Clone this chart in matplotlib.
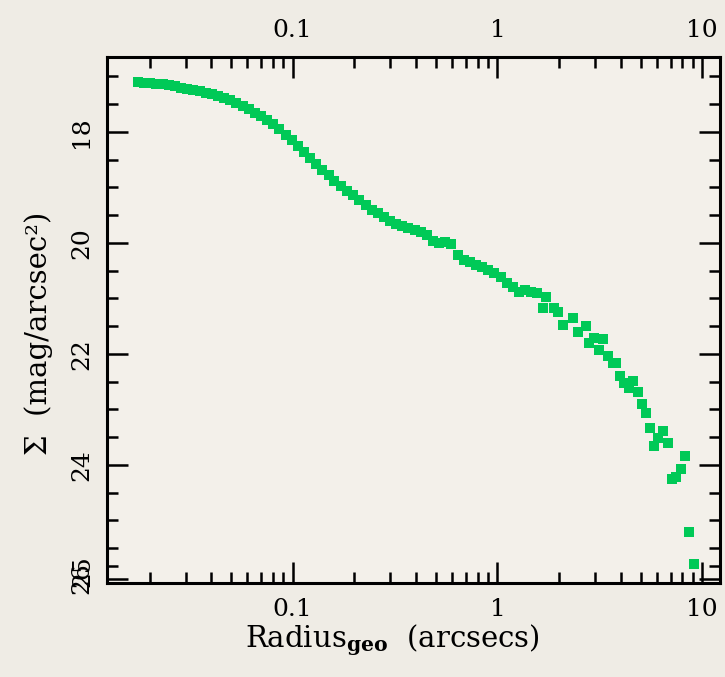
import matplotlib
matplotlib.use("Agg")
import matplotlib.pyplot as plt
from matplotlib.ticker import FixedLocator, LogLocator, NullFormatter

# ---- data ----
radius = [0.0176, 0.0188, 0.0202, 0.0216, 0.0232, 0.0248, 0.0266, 0.0285, 0.0306, 0.0327,
          0.0351, 0.0376, 0.0403, 0.0432, 0.0462, 0.0496, 0.0531, 0.0569, 0.0610, 0.0653,
          0.0700, 0.0750, 0.0804, 0.0861, 0.0923, 0.0989, 0.106, 0.1135, 0.1216, 0.1303,
          0.1396, 0.1496, 0.160, 0.172, 0.184, 0.197, 0.211, 0.227, 0.243, 0.260,
          0.279, 0.299, 0.320, 0.343, 0.367, 0.394, 0.422, 0.452, 0.484, 0.519,
          0.556, 0.596, 0.638, 0.684, 0.733, 0.785, 0.841, 0.902, 0.966, 1.035,
          1.109, 1.189, 1.274, 1.365, 1.462, 1.567, 1.718,
          1.66, 1.88, 1.97, 2.10, 2.33, 2.46, 2.69, 2.79, 2.95, 3.12,
          3.26, 3.45, 3.65, 3.78, 3.95, 4.13, 4.37, 4.57, 4.84, 5.06,
          5.30, 5.54, 5.80, 6.06, 6.41, 6.78, 7.09, 7.41, 7.85, 8.20,
          8.59, 9.08]
sigma = [17.10, 17.11, 17.12, 17.13, 17.14, 17.16, 17.18, 17.20, 17.22, 17.24,
         17.26, 17.29, 17.32, 17.35, 17.38, 17.42, 17.47, 17.53, 17.59, 17.66,
         17.72, 17.78, 17.86, 17.95, 18.05, 18.15, 18.25, 18.36, 18.47, 18.58,
         18.68, 18.78, 18.88, 18.97, 19.06, 19.14, 19.23, 19.32, 19.40, 19.47,
         19.54, 19.61, 19.66, 19.70, 19.74, 19.77, 19.80, 19.85, 19.97, 20.01,
         19.99, 20.02, 20.22, 20.30, 20.35, 20.39, 20.44, 20.49, 20.55, 20.61,
         20.72, 20.80, 20.88, 20.85, 20.88, 20.90, 20.97,
         21.17, 21.17, 21.24, 21.48, 21.35, 21.60, 21.50, 21.80, 21.71, 21.93,
         21.73, 22.04, 22.16, 22.16, 22.40, 22.52, 22.61, 22.49, 22.68, 22.90,
         23.06, 23.33, 23.66, 23.51, 23.39, 23.60, 24.25, 24.22, 24.07, 23.84,
         25.21, 25.78]

x_major = [0.1, 1, 10]
x_major_labels = ["0.1", "1", "10"]
y_major = [18, 20, 22, 24, 26.05]
y_major_labels = ["18", "20", "22", "24", "26"]
y_minor = [17.0, 17.5, 18.5, 19.0, 19.5, 20.5, 21.0, 21.5, 22.5, 23.0, 23.5,
           24.5, 25.0, 25.5, 25.82]

FONT = "DejaVu Serif"
plt.rcParams["font.family"] = [FONT]
plt.rcParams["mathtext.fontset"] = "dejavuserif"

fig = plt.figure(figsize=(7.25, 6.77), dpi=100, facecolor="#efece5")
ax = fig.add_axes([0.1476, 0.1388, 0.8455, 0.777])
ax.set_facecolor("#f3f0ea")

ax.plot(radius, sigma, linestyle="none", marker="s", markersize=7.3,
        color="#00c957", markeredgewidth=0)

ax.set_xscale("log")
ax.set_xlim(0.0124, 12.2)
ax.set_ylim(26.13, 16.65)

ax.set_xticks(x_major, x_major_labels)
ax.xaxis.set_minor_locator(LogLocator(base=10, subs=range(2, 10)))
ax.xaxis.set_minor_formatter(NullFormatter())

ax.set_yticks(y_major, y_major_labels)
ax.yaxis.set_minor_locator(FixedLocator(y_minor))

for s in ax.spines.values():
    s.set_linewidth(2.2)
    s.set_color("black")

ax.tick_params(which="both", direction="in", top=True, right=True,
               labeltop=True, labelbottom=True, width=1.8, colors="black",
               labelsize=18)
ax.tick_params(which="major", length=15)
ax.tick_params(which="minor", length=8)
ax.tick_params(axis="x", which="major", pad=11)
ax.tick_params(axis="y", which="major", pad=10)

for lab in ax.get_yticklabels() + ax.get_xticklabels():
    lab.set_fontweight("medium")
for lab in ax.get_yticklabels():
    lab.set_rotation(90)
    lab.set_va("center")

# overlapping tick text at the bottom of the y axis
ax.text(-0.021, 25.92, "25", rotation=90, ha="right", va="center",
        fontsize=18, fontweight="medium", transform=ax.get_yaxis_transform())

ax.set_xlabel(r"Radius$_{\mathbf{geo}}$  (arcsecs)", fontsize=21, labelpad=1)
ax.xaxis.label.set_x(0.465)
ax.set_ylabel("Σ  (mag/arcsec²)", fontsize=21, labelpad=12)
ax.yaxis.label.set_y(0.475)

fig.savefig("out.png", dpi=100, facecolor=fig.get_facecolor())
